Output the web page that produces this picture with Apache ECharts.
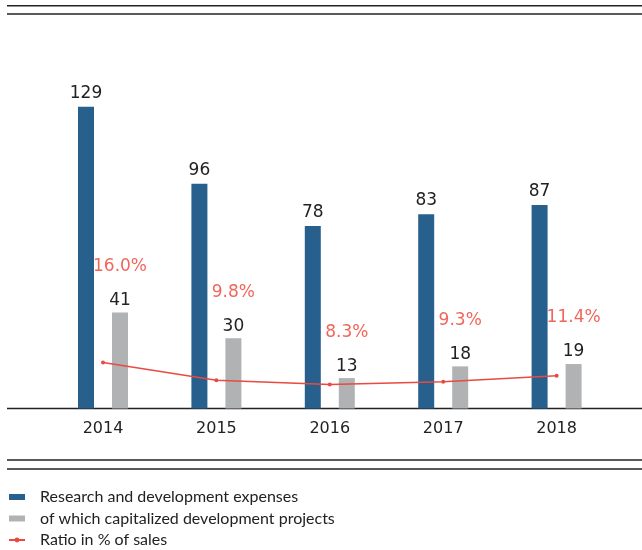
<!DOCTYPE html>
<html>
<head>
<meta charset="utf-8">
<script src="https://cdn.jsdelivr.net/npm/echarts@6/dist/echarts.min.js"></script>
<style>
	html, body { margin: 0; padding: 0; background: #fff; }
	#chart { width: 642px; height: 550px; }
</style>
</head>
<body>
<div id="chart"></div>
<script>
// 数据 data
var years = ['2014', '2015', '2016', '2017', '2018']
var rdExpenses = [129, 96, 78, 83, 87]
var capitalized = [41, 30, 13, 18, 19]
var ratio = [16.0, 9.8, 8.3, 9.3, 11.4]

var blue = '#27608d'
var gray = '#b1b2b4'
var red = '#ea4a40'
var font = 'DejaVu Sans'

var myChart = echarts.init(document.getElementById('chart'))

// 水平线 rules
function rule(y) {
	return {
		type: 'line',
		shape: { x1: 7, y1: y, x2: 642, y2: y },
		style: { stroke: '#222', lineWidth: 1.5 }
	}
}

var option = {
	animation: false,
	textStyle: { fontFamily: font },
	grid: { left: 46.3, right: 28.7, top: 57.5, bottom: 141.5 },
	legend: {
		orient: 'vertical',
		left: 8,
		top: 489,
		padding: 0,
		itemWidth: 16,
		itemHeight: 6,
		itemGap: 5.5,
		textStyle: { fontFamily: 'Lato', fontSize: 16, color: '#222', lineHeight: 16, padding: [0, 0, 0, 10] },
		data: [
			{ name: 'Research and development expenses', icon: 'rect' },
			{ name: 'of which capitalized development projects', icon: 'rect' },
			{ name: 'Ratio in % of sales' }
		]
	},
	xAxis: {
		type: 'category',
		data: years,
		axisLine: { show: false },
		axisTick: { show: false },
		axisLabel: { color: '#222', fontSize: 16, margin: 12, fontFamily: font }
	},
	yAxis: [
		{ type: 'value', min: 0, max: 150, show: false, splitLine: { show: false } },
		{ type: 'value', min: 0, max: 122, show: false, splitLine: { show: false } }
	],
	graphic: [rule(5.7), rule(14), rule(408.5), rule(460), rule(469)],
	series: [
		{
			name: 'Research and development expenses',
			type: 'bar',
			data: rdExpenses,
			barWidth: 16,
			barGap: '112.5%',
			itemStyle: { color: blue },
			label: { show: true, position: 'top', distance: 5, color: '#222', fontSize: 17, fontFamily: font }
		},
		{
			name: 'of which capitalized development projects',
			type: 'bar',
			data: capitalized,
			barWidth: 16,
			itemStyle: { color: gray },
			label: {
				show: true,
				position: 'top',
				distance: 3,
				// 百分比标签放在灰色柱上方
				formatter: function(p) {
					return '{p|' + ratio[p.dataIndex].toFixed(1) + '%}\n{v|' + p.value + '}'
				},
				rich: {
					p: { color: '#f0665b', fontSize: 17, fontFamily: font, lineHeight: 50 },
					v: { color: '#222', fontSize: 17, fontFamily: font, lineHeight: 18 }
				}
			}
		},
		{
			name: 'Ratio in % of sales',
			type: 'line',
			yAxisIndex: 1,
			data: ratio,
			symbol: 'circle',
			symbolSize: 4,
			lineStyle: { color: red, width: 1.5 },
			itemStyle: { color: red }
		}
	]
}

myChart.setOption(option)
</script>
</body>
</html>
